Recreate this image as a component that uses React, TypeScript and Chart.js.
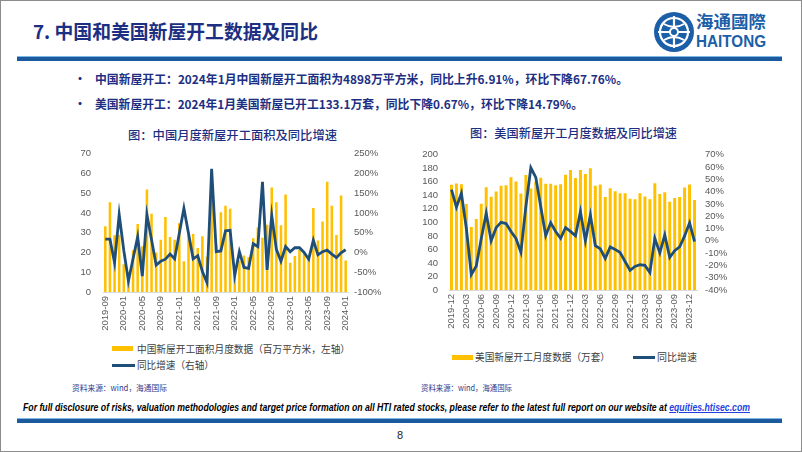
import React, { useEffect, useLayoutEffect, useRef } from 'react';
import { Chart, registerables } from 'chart.js';
Chart.register(...registerables);

// ---------- data ----------
const cnMonths = [
  '2019-09','2019-10','2019-11','2019-12',
  '2020-01','2020-02','2020-03','2020-04','2020-05','2020-06','2020-07','2020-08','2020-09','2020-10','2020-11','2020-12',
  '2021-01','2021-02','2021-03','2021-04','2021-05','2021-06','2021-07','2021-08','2021-09','2021-10','2021-11','2021-12',
  '2022-01','2022-02','2022-03','2022-04','2022-05','2022-06','2022-07','2022-08','2022-09','2022-10','2022-11','2022-12',
  '2023-01','2023-02','2023-03','2023-04','2023-05','2023-06','2023-07','2023-08','2023-09','2023-10','2023-11','2023-12',
  '2024-01',
];
const cnArea = [
  33.3, 45.4, 28.7, 29,
  14, 10, 21.1, 34.4, 23.2, 51.9, 39.6, 20, 26.4, 38, 27.9, 26.4,
  34.8, 15.6, 29, 29.3, 22.3, 28.2, 18, 47, 24, 40.4, 43.7, 42.1,
  11, 16, 18.5, 17.6, 27.2, 32.7, 27.4, 34, 52.9, 45.4, 33.8, 49.4,
  14.8, 18.2, 21.2, 19.6, 17, 42.5, 26.1, 35.7, 55.8, 43.6, 28.8, 48.9,
  16,
];
const cnYoY = [
  34, 34, -26, 96,
  5, -72, -16, 40, -60, 96, 32, -32, -22, -17, -4, -16,
  48, 112, 48, -16, -8, -48, -76, 212, 2, 4, 55, 56,
  -58, 2, -38, -40, 22, 15, 179, -44, 94, 8, -22, 15,
  2, 12, 12, 0, -17, 31, -6, 2, 6, -4, -13, -1,
  6.91,
];

const usMonths = [
  '2019-12',
  '2020-01','2020-02','2020-03','2020-04','2020-05','2020-06','2020-07','2020-08','2020-09','2020-10','2020-11','2020-12',
  '2021-01','2021-02','2021-03','2021-04','2021-05','2021-06','2021-07','2021-08','2021-09','2021-10','2021-11','2021-12',
  '2022-01','2022-02','2022-03','2022-04','2022-05','2022-06','2022-07','2022-08','2022-09','2022-10','2022-11','2022-12',
  '2023-01','2023-02','2023-03','2023-04','2023-05','2023-06','2023-07','2023-08','2023-09','2023-10','2023-11','2023-12',
  '2024-01',
];
const usStarts = [
  155.5,
  157.3, 156.4, 127, 93, 105, 127.5, 152, 138, 145.5, 154, 155, 166.5,
  160.5, 142.5, 170, 150, 160, 166, 157, 157, 155, 156.5, 170.5, 177.5,
  165.5, 177.5, 171.5, 180, 154, 156, 137.5, 150.5, 146, 143, 143, 135,
  134, 143, 138.3, 134, 157.8, 142, 144.6, 130.5, 136, 137.5, 151.6, 156,
  133.1,
];
const usYoY = [
  41.7,
  27.4, 38.6, 10, -27.4, -20.5, 1.6, 22.4, 0, 10.7, 15, 14, 7.5,
  1.9, -9.4, 28, 59.4, 51.6, 27.7, 4.2, 14.6, 7.6, 2, 10.7, 7.6,
  4, 23.8, 0, 21, -3.9, -6.5, -14.3, -5, -7, -9.6, -16.8, -24,
  -20.8, -19.5, -20, -25.8, 2, -9.8, 4.7, -13.5, -8, -5, 4, 14.6,
  -0.67,
];

const cnTickEvery = 4;
const usTickEvery = 3;

// ---------- styles ----------
const BAR = '#FFC000';
const LINE = '#1F4E79';
const NAVY = '#1D2F82';
const AXIS_TXT = '#595959';
const NUM_FONT = "'Liberation Sans', Arial, sans-serif";
const CJK = "'Noto Sans CJK SC', 'Noto Sans', sans-serif";

function FitText(props: { x: number; cy: number; w: number; size: number; style?: any; children: any }) {
  const ref = useRef<HTMLDivElement>(null);
  useLayoutEffect(() => {
    const el = ref.current;
    if (!el) return;
    el.style.transform = 'none';
    const nat = el.getBoundingClientRect().width;
    if (nat > 0) el.style.transform = `scaleX(${props.w / nat})`;
  });
  return (
    <div
      ref={ref}
      style={{
        position: 'absolute',
        left: props.x,
        top: props.cy - props.size * 0.6,
        fontSize: props.size,
        lineHeight: `${props.size * 1.2}px`,
        whiteSpace: 'nowrap',
        transformOrigin: '0 0',
        ...props.style,
      }}
    >
      {props.children}
    </div>
  );
}

function Txt(props: { x: number; cy: number; size: number; style?: any; children: any }) {
  return (
    <div
      style={{
        position: 'absolute',
        left: props.x,
        top: props.cy - props.size * 0.6,
        fontSize: props.size,
        lineHeight: `${props.size * 1.2}px`,
        whiteSpace: 'nowrap',
        ...props.style,
      }}
    >
      {props.children}
    </div>
  );
}

function ChartBox(props: { left: number; top: number; width: number; height: number; make: () => any }) {
  const ref = useRef<HTMLCanvasElement>(null);
  useEffect(() => {
    const chart = new Chart(ref.current as HTMLCanvasElement, props.make());
    return () => chart.destroy();
  }, []);
  return (
    <canvas
      ref={ref}
      width={props.width}
      height={props.height}
      style={{ position: 'absolute', left: props.left, top: props.top, width: props.width, height: props.height }}
    />
  );
}

function makeConfig(opts: {
  labels: string[];
  bars: number[];
  line: number[];
  barLabel: string;
  lineLabel: string;
  every: number;
  yMax: number;
  yStep: number;
  y1Min: number;
  y1Max: number;
  y1Step: number;
  leftW: number;
  rightW: number;
  xH: number;
  padTop: number;
  barPct: number;
  leftPad: number;
  rightPad: number;
}) {
  const tickFont = { family: NUM_FONT, size: 9.5 };
  return {
    type: 'bar',
    data: {
      labels: opts.labels,
      datasets: [
        {
          type: 'line',
          label: opts.lineLabel,
          data: opts.line,
          yAxisID: 'y1',
          borderColor: LINE,
          backgroundColor: LINE,
          borderWidth: 2.8,
          pointRadius: 0,
          tension: 0,
          order: 0,
        },
        {
          type: 'bar',
          label: opts.barLabel,
          data: opts.bars,
          yAxisID: 'y',
          backgroundColor: BAR,
          barPercentage: opts.barPct,
          categoryPercentage: 1,
          order: 1,
        },
      ],
    },
    options: {
      animation: false,
      responsive: false,
      devicePixelRatio: 1,
      layout: { padding: { top: opts.padTop, left: 0, right: 0, bottom: 0 } },
      plugins: { legend: { display: false }, tooltip: { enabled: false } },
      scales: {
        x: {
          offset: true,
          grid: { display: false, drawTicks: false },
          border: { display: true, color: '#D9D9D9', width: 1 },
          ticks: {
            autoSkip: false,
            maxRotation: 90,
            minRotation: 90,
            padding: 4,
            color: AXIS_TXT,
            font: tickFont,
            callback: (_v: any, i: number) => (i % opts.every === 0 ? opts.labels[i] : null),
          },
          afterFit: (s: any) => {
            s.height = opts.xH;
          },
        },
        y: {
          position: 'left',
          min: 0,
          max: opts.yMax,
          grid: { display: false, drawTicks: false },
          border: { display: false },
          ticks: { autoSkip: false, stepSize: opts.yStep, padding: opts.leftPad, color: AXIS_TXT, font: tickFont },
          afterFit: (s: any) => {
            s.width = opts.leftW;
          },
        },
        y1: {
          position: 'right',
          min: opts.y1Min,
          max: opts.y1Max,
          grid: { display: false, drawTicks: false },
          border: { display: false },
          ticks: {
            autoSkip: false,
            stepSize: opts.y1Step,
            padding: opts.rightPad,
            color: AXIS_TXT,
            font: tickFont,
            callback: (v: any) => `${v}%`,
          },
          afterFit: (s: any) => {
            s.width = opts.rightW;
          },
        },
      },
    },
  };
}

function Logo() {
  return (
    <svg style={{ position: 'absolute', left: 653, top: 11 }} width={42} height={42} viewBox="0 0 42 42">
      <circle cx={21} cy={21} r={20} fill="#1B5FA8" />
      <circle cx={21} cy={21} r={14} fill="none" stroke="#fff" strokeWidth={2.2} />
      <path d="M21 5 L21 37 M5 21 L37 21" stroke="#fff" strokeWidth={2.2} />
      <path d="M11 13 Q21 19 31 13 M11 29 Q21 23 31 29" fill="none" stroke="#fff" strokeWidth={2} />
      <circle cx={21} cy={21} r={4} fill="#1B5FA8" stroke="#fff" strokeWidth={2} />
    </svg>
  );
}

export default function App() {
  const cnBarLabel = '中国新屋开工面积月度数据（百万平方米，左轴）';
  const cnLineLabel = '同比增速（右轴）';
  const usBarLabel = '美国新屋开工月度数据（万套）';
  const usLineLabel = '同比增速';

  return (
    <div
      style={{
        position: 'absolute',
        left: 0,
        top: 0,
        width: 802,
        height: 452,
        background: '#fff',
        overflow: 'hidden',
        fontFamily: CJK,
      }}
    >
      {/* page frame */}
      <div style={{ position: 'absolute', left: 0, top: 0, width: 800, height: 450, border: '1px solid #8C8C8C' }} />

      {/* header */}
      <FitText x={33} cy={31} w={285} size={19} style={{ color: NAVY, fontWeight: 700 }}>
        7. 中国和美国新屋开工数据及同比
      </FitText>
      <Logo />
      <FitText x={696} cy={21} w={70} size={17} style={{ color: '#1B5FA8', fontWeight: 700 }}>
        海通國際
      </FitText>
      <FitText x={696} cy={42} w={70} size={16} style={{ color: '#1B5FA8', fontWeight: 700, fontFamily: NUM_FONT }}>
        HAITONG
      </FitText>
      <div style={{ position: 'absolute', left: 17, top: 56, width: 765, height: 1, background: '#7FB8E6' }} />
      <div style={{ position: 'absolute', left: 17, top: 57, width: 765, height: 4, background: '#1B5A9C' }} />

      {/* bullets */}
      <Txt x={74} cy={79} size={12} style={{ color: NAVY, fontWeight: 700 }}>•</Txt>
      <FitText x={95} cy={79} w={533} size={12} style={{ color: NAVY, fontWeight: 700 }}>
        中国新屋开工：2024年1月中国新屋开工面积为4898万平方米，同比上升6.91%，环比下降67.76%。
      </FitText>
      <Txt x={74} cy={104} size={12} style={{ color: NAVY, fontWeight: 700 }}>•</Txt>
      <FitText x={95} cy={104} w={488} size={12} style={{ color: NAVY, fontWeight: 700 }}>
        美国新屋开工：2024年1月美国新屋已开工133.1万套，同比下降0.67%，环比下降14.79%。
      </FitText>

      {/* chart titles */}
      <FitText x={128} cy={135} w={209} size={12} style={{ color: NAVY, fontWeight: 500 }}>
        图：中国月度新屋开工面积及同比增速
      </FitText>
      <FitText x={470} cy={133} w={207} size={12} style={{ color: NAVY, fontWeight: 500 }}>
        图：美国新屋开工月度数据及同比增速
      </FitText>

      {/* charts */}
      <ChartBox
        left={60}
        top={136}
        width={330}
        height={200}
        make={() =>
          makeConfig({
            labels: cnMonths,
            bars: cnArea,
            line: cnYoY,
            barLabel: cnBarLabel,
            lineLabel: cnLineLabel,
            every: cnTickEvery,
            yMax: 70,
            yStep: 10,
            y1Min: -100,
            y1Max: 250,
            y1Step: 50,
            leftW: 43,
            rightW: 42,
            xH: 44,
            padTop: 10,
            barPct: 0.55,
            leftPad: 12,
            rightPad: 6,
          })
        }
      />
      <ChartBox
        left={405}
        top={138}
        width={340}
        height={200}
        make={() =>
          makeConfig({
            labels: usMonths,
            bars: usStarts,
            line: usYoY,
            barLabel: usBarLabel,
            lineLabel: usLineLabel,
            every: usTickEvery,
            yMax: 200,
            yStep: 20,
            y1Min: -40,
            y1Max: 70,
            y1Step: 10,
            leftW: 44,
            rightW: 48,
            xH: 48,
            padTop: 11,
            barPct: 0.6,
            leftPad: 11,
            rightPad: 8,
          })
        }
      />

      {/* chart 1 legend */}
      <div style={{ position: 'absolute', left: 112, top: 346, width: 21, height: 5, background: BAR }} />
      <FitText x={137} cy={348.5} w={213} size={10} style={{ color: '#404040' }}>{cnBarLabel}</FitText>
      <div style={{ position: 'absolute', left: 112, top: 363.5, width: 23, height: 3, background: LINE }} />
      <FitText x={137} cy={365} w={77} size={10} style={{ color: '#404040' }}>{cnLineLabel}</FitText>
      <FitText x={72} cy={388} w={95} size={8} style={{ color: '#2E3A8C' }}>资料来源：wind，海通国际</FitText>

      {/* chart 2 legend */}
      <div style={{ position: 'absolute', left: 452, top: 355, width: 21, height: 5, background: BAR }} />
      <FitText x={475} cy={357} w={135} size={10} style={{ color: '#404040' }}>{usBarLabel}</FitText>
      <div style={{ position: 'absolute', left: 633, top: 356, width: 22, height: 3, background: LINE }} />
      <FitText x={657} cy={357} w={40} size={10} style={{ color: '#404040' }}>{usLineLabel}</FitText>
      <FitText x={421} cy={388} w={91} size={8} style={{ color: '#2E3A8C' }}>资料来源：wind，海通国际</FitText>

      {/* footer */}
      <FitText
        x={23}
        cy={408}
        w={727}
        size={11}
        style={{ color: '#000', fontWeight: 700, fontStyle: 'italic', fontFamily: "'Liberation Sans Narrow', 'Liberation Sans', sans-serif" }}
      >
        For full disclosure of risks, valuation methodologies and target price formation on all HTI rated stocks, please refer
        to the latest full report on our website at{' '}
        <span style={{ color: '#1F3FE0', textDecoration: 'underline' }}>equities.htisec.com</span>
      </FitText>
      <div style={{ position: 'absolute', left: 17, top: 418, width: 765, height: 1, background: '#7FB8E6' }} />
      <div style={{ position: 'absolute', left: 17, top: 419, width: 765, height: 4, background: '#1B5A9C' }} />
      <Txt x={397} cy={436} size={11} style={{ color: '#222', fontFamily: NUM_FONT }}>8</Txt>
    </div>
  );
}
